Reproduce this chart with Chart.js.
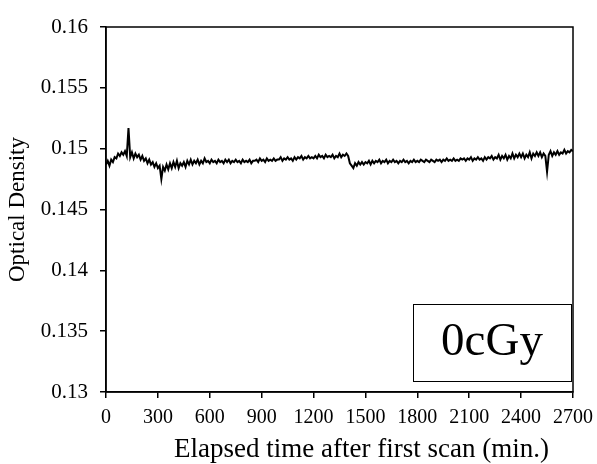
<!DOCTYPE html>
<html>
<head>
<meta charset="utf-8">
<script src="https://cdn.jsdelivr.net/npm/chart.js@4.4.0/dist/chart.umd.min.js"></script>
<style>
  html, body { margin: 0; padding: 0; background: #fff; }
  canvas { display: block; }
</style>
</head>
<body>
<canvas id="grafico" width="597" height="464"></canvas>
<script>
// leituras a cada 10 min (0 .. 2700)
const intervalo = 10;
const densidade = [
  0.1487, 0.1490, 0.1486, 0.1491, 0.1489, 0.1493, 0.1492, 0.1496, 0.1494, 0.1497,
  0.1495, 0.1498, 0.1494, 0.1517, 0.1493, 0.1497, 0.1492, 0.1496, 0.1493, 0.1495,
  0.1491, 0.1494, 0.1490, 0.1492, 0.1488, 0.1491, 0.1487, 0.1489, 0.1485, 0.1488,
  0.1484, 0.1486, 0.1475, 0.1485, 0.1482, 0.1487, 0.1483, 0.1488, 0.1484, 0.1489,
  0.1485, 0.1490, 0.1484, 0.1488, 0.1486, 0.1489, 0.1485, 0.1490, 0.1487, 0.1491,
  0.1487, 0.1490, 0.1488, 0.1491, 0.1487, 0.1490, 0.1488, 0.1492, 0.1489, 0.1490,
  0.1488, 0.1491, 0.1489, 0.1490, 0.1488, 0.1491, 0.1489, 0.1490, 0.1488, 0.1491,
  0.1489, 0.1491, 0.1488, 0.1490, 0.1489, 0.1491, 0.1489, 0.1490, 0.1488, 0.1491,
  0.1489, 0.1490, 0.1489, 0.1491, 0.1488, 0.1490, 0.1490, 0.1491, 0.1489, 0.1492,
  0.1490, 0.1491, 0.1489, 0.1492, 0.1490, 0.1491, 0.1490, 0.1492, 0.1490, 0.1491,
  0.1491, 0.1493, 0.1490, 0.1492, 0.1491, 0.1493, 0.1491, 0.1492, 0.1490, 0.1493,
  0.1491, 0.1493, 0.1492, 0.1494, 0.1491, 0.1493, 0.1492, 0.1494, 0.1492, 0.1493,
  0.1492, 0.1494, 0.1492, 0.1495, 0.1493, 0.1494, 0.1492, 0.1495, 0.1493, 0.1494,
  0.1493, 0.1495, 0.1492, 0.1494, 0.1493, 0.1496, 0.1493, 0.1495, 0.1494, 0.1496,
  0.1494, 0.1488, 0.1486, 0.1484, 0.1488, 0.1486, 0.1489, 0.1487, 0.1489, 0.1487,
  0.1489, 0.1488, 0.1490, 0.1487, 0.1490, 0.1488, 0.1490, 0.1489, 0.1491, 0.1488,
  0.1490, 0.1489, 0.1491, 0.1488, 0.1490, 0.1489, 0.1491, 0.1489, 0.1490, 0.1488,
  0.1490, 0.1489, 0.1491, 0.1489, 0.1490, 0.1488, 0.1490, 0.1489, 0.1491, 0.1489,
  0.1490, 0.1489, 0.1491, 0.1490, 0.1489, 0.1491, 0.1490, 0.1489, 0.1491, 0.1490,
  0.1489, 0.1491, 0.1490, 0.1491, 0.1489, 0.1491, 0.1490, 0.1492, 0.1490, 0.1491,
  0.1490, 0.1492, 0.1490, 0.1491, 0.1490, 0.1492, 0.1491, 0.1492, 0.1490, 0.1492,
  0.1491, 0.1493, 0.1490, 0.1492, 0.1491, 0.1493, 0.1491, 0.1492, 0.1490, 0.1493,
  0.1491, 0.1493, 0.1492, 0.1494, 0.1491, 0.1493, 0.1492, 0.1495, 0.1491, 0.1494,
  0.1492, 0.1495, 0.1491, 0.1494, 0.1492, 0.1496, 0.1492, 0.1495, 0.1493, 0.1496,
  0.1493, 0.1496, 0.1492, 0.1495, 0.1493, 0.1497, 0.1492, 0.1496, 0.1494, 0.1497,
  0.1494, 0.1497, 0.1493, 0.1496, 0.1494, 0.1481, 0.1495, 0.1498, 0.1494, 0.1497,
  0.1495, 0.1498, 0.1495, 0.1497, 0.1496, 0.1499, 0.1496, 0.1498, 0.1497, 0.1499,
  0.1498
];

const eixoX = { min: 0, max: 2700, passo: 300 };
const eixoY = { min: 0.13, max: 0.16, passo: 0.005 };
const tituloX = 'Elapsed time after first scan (min.)';
const rotulo = '0cGy';

const pontos = densidade.map((v, i) => ({ x: i * intervalo, y: v }));

const serif = "'Liberation Serif', 'Times New Roman', serif";

// moldura do gráfico, título do eixo x e caixa com a dose
const moldura = {
  id: 'moldura',
  afterDraw(chart) {
    const { ctx, chartArea: a } = chart;
    ctx.save();
    ctx.strokeStyle = '#000';
    ctx.lineWidth = 1.5;
    ctx.strokeRect(a.left, a.top, a.right - a.left, a.bottom - a.top);

    ctx.fillStyle = '#000';
    ctx.font = '27px ' + serif;
    ctx.textAlign = 'center';
    ctx.textBaseline = 'alphabetic';
    ctx.fillText(tituloX, (a.left + a.right) / 2 + 22, 457);

    const w = 158, h = 77;
    const x = a.right - 2 - w, y = a.bottom - 11 - h;
    ctx.fillStyle = '#fff';
    ctx.fillRect(x, y, w, h);
    ctx.lineWidth = 1;
    ctx.strokeRect(x + 0.5, y + 0.5, w, h);
    ctx.fillStyle = '#000';
    ctx.font = '47px ' + serif;
    ctx.textBaseline = 'middle';
    ctx.fillText(rotulo, x + w / 2, y + h / 2);
    ctx.restore();
  }
};

new Chart(document.getElementById('grafico').getContext('2d'), {
  type: 'line',
  data: {
    datasets: [{
      data: pontos,
      borderColor: '#000',
      borderWidth: 2,
      pointRadius: 0,
      tension: 0,
      fill: false
    }]
  },
  options: {
    responsive: false,
    animation: false,
    layout: { padding: { top: 27, right: 24, left: 0, bottom: 0 } },
    plugins: { legend: { display: false }, tooltip: { enabled: false } },
    scales: {
      x: {
        type: 'linear',
        min: eixoX.min,
        max: eixoX.max,
        afterFit: s => { s.height = 72; s.paddingLeft = 0; s.paddingRight = 0; },
        ticks: {
          stepSize: eixoX.passo,
          color: '#000',
          font: { family: serif, size: 20 },
          maxRotation: 0,
          padding: 8,
          callback: v => String(v)
        },
        grid: { drawOnChartArea: false, color: '#000', tickLength: 6, lineWidth: 1.5 },
        border: { color: '#000', width: 1.5 },
        title: { display: false }
      },
      y: {
        min: eixoY.min,
        max: eixoY.max,
        afterFit: s => { s.width = 106; s.paddingTop = 0; s.paddingBottom = 0; },
        ticks: {
          stepSize: eixoY.passo,
          color: '#000',
          font: { family: serif, size: 21 },
          padding: 12,
          callback: v => String(parseFloat(v.toFixed(3)))
        },
        grid: { drawOnChartArea: false, color: '#000', tickLength: 6, lineWidth: 1.5 },
        border: { color: '#000', width: 1.5 },
        title: { display: true, text: 'Optical Density', color: '#000', font: { family: serif, size: 23 }, padding: { top: 4, bottom: 0 } }
      }
    }
  },
  plugins: [moldura]
});
</script>
</body>
</html>
